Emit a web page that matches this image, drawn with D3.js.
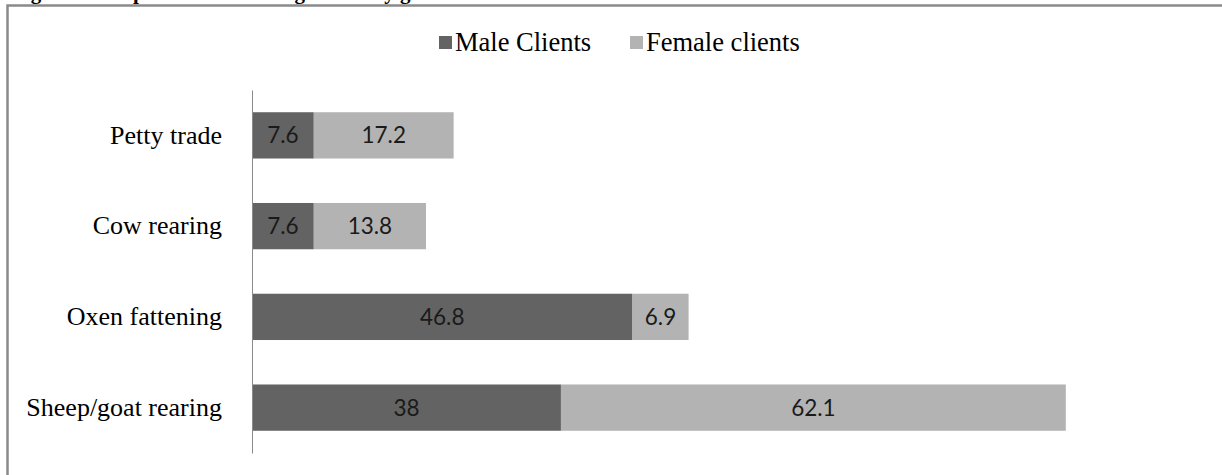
<!DOCTYPE html>
<html>
<head>
<meta charset="utf-8">
<script src="https://cdn.jsdelivr.net/npm/d3@7"></script>
<style>
  html, body { margin: 0; padding: 0; background: #fff; }
  svg { display: block; }
</style>
</head>
<body>
<svg id="chart" width="1222" height="475"></svg>
<script>
const categories = ["Petty trade", "Cow rearing", "Oxen fattening", "Sheep/goat rearing"];
const seriesNames = ["Male Clients", "Female clients"];
const maleValues = [7.6, 7.6, 46.8, 38];
const femaleValues = [17.2, 13.8, 6.9, 62.1];
const titleText = "Figure 3: Purpose of loan among clients by gender";

const colors = ["#636363", "#b3b3b3"];
const svg = d3.select("#chart");
const W = 1222, H = 475;

svg.append("rect").attr("width", W).attr("height", H).attr("fill", "#fff");

// partially clipped title (as in the reference, only its lowest part is visible)
svg.append("text").attr("x", 12).attr("y", -1)
  .attr("font-family", "'Liberation Serif', 'Times New Roman', serif")
  .attr("font-weight", "bold").attr("font-size", 21).attr("fill", "#000")
  .text(titleText);

// frame
svg.append("path").attr("d", `M7.5,${H} V5.5 H${W}`)
  .attr("fill", "none").attr("stroke", "#8a8a8a").attr("stroke-width", 2.5);

const x = d3.scaleLinear().domain([0, 100]).range([252, 1065]);
const y = d3.scaleBand().domain(categories).range([90, 453]).paddingInner(0.49).paddingOuter(0.245);

const data = categories.map((c, i) => ({ cat: c, vals: [maleValues[i], femaleValues[i]] }));
const stack = d3.stack().keys([0, 1]).value((d, k) => d.vals[k]);
const layers = stack(data);

layers.forEach((layer, k) => {
  const g = svg.append("g");
  g.selectAll("rect").data(layer).enter().append("rect")
    .attr("x", d => x(d[0]))
    .attr("y", d => y(d.data.cat))
    .attr("width", d => x(d[1]) - x(d[0]))
    .attr("height", y.bandwidth())
    .attr("fill", colors[k]);
  g.selectAll("text").data(layer).enter().append("text")
    .attr("x", d => (x(d[0]) + x(d[1])) / 2)
    .attr("y", d => y(d.data.cat) + y.bandwidth() / 2)
    .attr("dy", "0.36em")
    .attr("text-anchor", "middle")
    .attr("font-family", "Lato, 'Open Sans', sans-serif")
    .attr("font-size", 22.5)
    .attr("fill", "#1a1a1a")
    .text(d => String(d.data.vals[k]));
});

// y axis
const yAxis = d3.axisLeft(y).tickSize(0).tickPadding(30);
const ya = svg.append("g").attr("transform", `translate(${x(0)},0)`).call(yAxis);
ya.select(".domain").attr("stroke", "#8a8a8a").attr("stroke-width", 1);
ya.selectAll("text")
  .attr("font-family", "'Liberation Serif', 'Times New Roman', serif")
  .attr("font-size", 26).attr("fill", "#000").attr("dy", "0.32em");

// legend
const legend = svg.append("g");
const legX = [439, 630];
seriesNames.forEach((n, i) => {
  legend.append("rect").attr("x", legX[i]).attr("y", 36).attr("width", 13).attr("height", 13).attr("fill", colors[i]);
  legend.append("text").attr("x", legX[i] + 16).attr("y", 51)
    .attr("font-family", "'Liberation Serif', 'Times New Roman', serif")
    .attr("font-size", 26.5).attr("fill", "#000").text(n);
});
</script>
</body>
</html>
